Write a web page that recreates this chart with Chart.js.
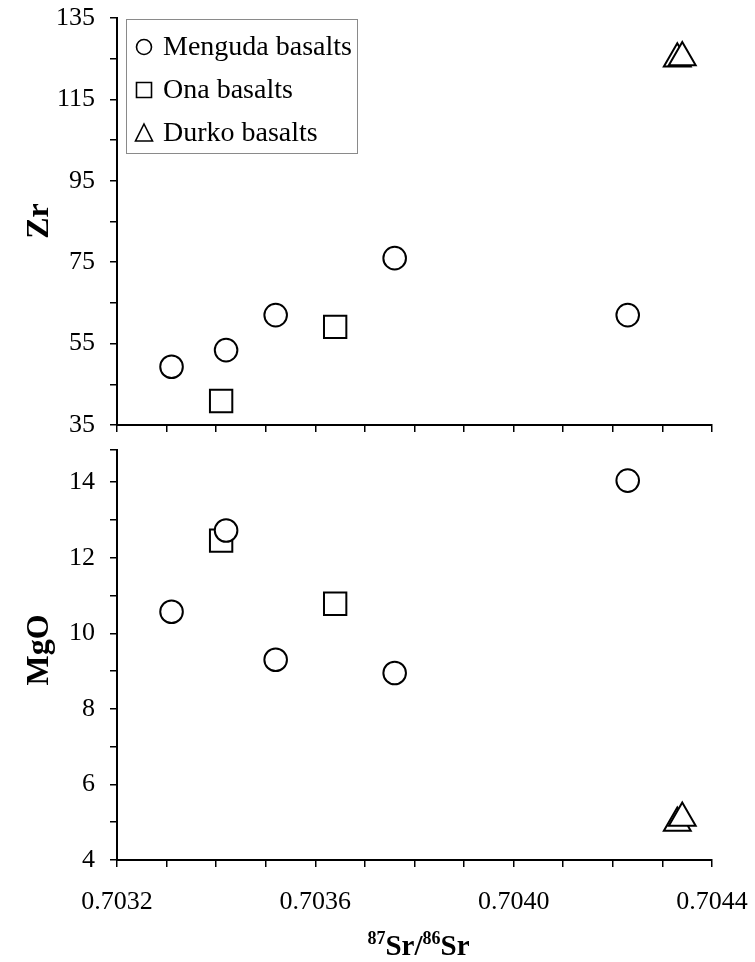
<!DOCTYPE html>
<html>
<head>
<meta charset="utf-8">
<script src="https://cdn.jsdelivr.net/npm/chart.js@4/dist/chart.umd.min.js"></script>
<style>
  html, body { margin: 0; padding: 0; background: #fff; }
  #wrap { position: relative; width: 755px; height: 962px; }
  canvas { position: absolute; left: 0; }
  #zr { top: 0; }
  #mgo { top: 432px; }
</style>
</head>
<body>
<div id="wrap">
  <canvas id="zr" width="755" height="443"></canvas>
  <canvas id="mgo" width="755" height="530"></canvas>
</div>
<script>
// 87Sr/86Sr and element values
const mengudaSr  = [0.70331, 0.70342, 0.70352, 0.70376, 0.70423];
const mengudaZr  = [49.3, 53.4, 62.0, 76.0, 62.0];
const mengudaMgO = [10.57, 12.72, 9.30, 8.95, 14.04];

const onaSr  = [0.70341, 0.70364];
const onaZr  = [40.9, 59.1];
const onaMgO = [12.45, 10.78];

const durkoSr  = [0.70433, 0.70434];
const durkoZr  = [125.0, 125.3];
const durkoMgO = [4.98, 5.11];

// axis ticks (minor ones carry no label)
const srTicks  = [0.7032, 0.7033, 0.7034, 0.7035, 0.7036, 0.7037, 0.7038,
                  0.7039, 0.7040, 0.7041, 0.7042, 0.7043, 0.7044];
const srLabels = ["0.7032", "", "", "", "0.7036", "", "", "", "0.7040", "", "", "", "0.7044"];
const zrTicks  = [35, 45, 55, 65, 75, 85, 95, 105, 115, 125, 135];
const zrLabels = ["35", "", "55", "", "75", "", "95", "", "115", "", "135"];
const mgoTicks  = [4, 5, 6, 7, 8, 9, 10, 11, 12, 13, 14, 14.85];
const mgoLabels = ["4", "", "6", "", "8", "", "10", "", "12", "", "14", ""];

const serif = "Liberation Serif";
Chart.defaults.font.family = serif;
Chart.defaults.font.size = 26;
Chart.defaults.color = "#000";

function pts(xs, ys) {
  return xs.map((x, i) => ({ x: x, y: ys[i] }));
}

function series(ys) {
  return [
    { label: "Menguda basalts", data: pts(mengudaSr, ys[0]), pointStyle: "circle", pointRadius: 11.3 },
    { label: "Ona basalts", data: pts(onaSr, ys[1]), pointStyle: "rect", pointRadius: 15.8 },
    { label: "Durko basalts", data: pts(durkoSr, ys[2]), pointStyle: "triangle", pointRadius: 15.5 }
  ].map(d => Object.assign(d, {
    showLine: false,
    backgroundColor: "#fff",
    borderColor: "#000",
    borderWidth: 2,
    pointBackgroundColor: "#fff",
    pointBorderColor: "#000",
    pointBorderWidth: 2,
    clip: false
  }));
}

function noPad(s) {
  s.paddingLeft = 0; s.paddingRight = 0; s.paddingTop = 0; s.paddingBottom = 0;
}

function xAxis(labels, height) {
  return {
    type: "linear",
    min: 0.7032,
    max: 0.7044,
    afterBuildTicks: s => { s.ticks = srTicks.map(v => ({ value: v })); },
    afterFit: s => { s.height = height; noPad(s); },
    ticks: {
      autoSkip: false,
      maxRotation: 0,
      padding: 20,
      font: { family: serif, size: 26 },
      callback: (v, i) => labels ? srLabels[i] : ""
    },
    grid: { drawOnChartArea: false, drawTicks: true, tickLength: 7, color: "#000", lineWidth: 1.5 },
    border: { color: "#000", width: 2 }
  };
}

function yAxis(min, max, ticks, labels) {
  return {
    type: "linear",
    min: min,
    max: max,
    afterBuildTicks: s => { s.ticks = ticks.map(v => ({ value: v })); },
    afterFit: s => { s.width = 117; noPad(s); },
    ticks: {
      autoSkip: false,
      padding: 15,
      font: { family: serif, size: 26 },
      callback: (v, i) => labels[i]
    },
    grid: { drawOnChartArea: false, drawTicks: true, tickLength: 7, color: "#000", lineWidth: 1.5 },
    border: { color: "#000", width: 2 }
  };
}

// bold axis names, drawn where the figure has them
const axisNames = {
  id: "axisNames",
  afterDraw(chart, args, opts) {
    const ctx = chart.ctx;
    ctx.save();
    ctx.fillStyle = "#000";
    ctx.font = "bold 32px '" + serif + "'";
    ctx.textAlign = "center";
    ctx.textBaseline = "middle";
    ctx.translate(opts.x, opts.y);
    ctx.rotate(-Math.PI / 2);
    ctx.fillText(opts.text, 0, 0);
    ctx.restore();

    if (opts.xTitle) {
      // 87Sr/86Sr with superscripts
      const parts = [["87", true], ["Sr/", false], ["86", true], ["Sr", false]];
      const big = "bold 29px '" + serif + "'", small = "bold 18px '" + serif + "'";
      ctx.save();
      ctx.fillStyle = "#000";
      ctx.textBaseline = "alphabetic";
      let w = 0;
      parts.forEach(p => { ctx.font = p[1] ? small : big; w += ctx.measureText(p[0]).width; });
      const area = chart.chartArea;
      let x = (area.left + area.right) / 2 - w / 2 + 4;
      const y = opts.xTitle;
      parts.forEach(p => {
        ctx.font = p[1] ? small : big;
        ctx.fillText(p[0], x, p[1] ? y - 11 : y);
        x += ctx.measureText(p[0]).width;
      });
      ctx.restore();
    }
  }
};

// legend box inside the top panel
const boxLegend = {
  id: "boxLegend",
  afterDraw(chart) {
    const ctx = chart.ctx;
    ctx.save();
    ctx.strokeStyle = "#8a8a8a";
    ctx.lineWidth = 1;
    ctx.strokeRect(126.5, 19.5, 231, 134);
    const rows = [47, 90, 133];
    ctx.font = "28px '" + serif + "'";
    ctx.textBaseline = "middle";
    chart.data.datasets.forEach((d, i) => {
      const cy = rows[i], cx = 144;
      ctx.strokeStyle = "#000";
      ctx.lineWidth = 1.6;
      ctx.beginPath();
      if (d.pointStyle === "circle") {
        ctx.arc(cx, cy, 7.5, 0, Math.PI * 2);
      } else if (d.pointStyle === "rect") {
        ctx.rect(cx - 7.5, cy - 7.5, 15, 15);
      } else {
        ctx.moveTo(cx, cy - 9);
        ctx.lineTo(cx + 8.5, cy + 8);
        ctx.lineTo(cx - 8.5, cy + 8);
        ctx.closePath();
      }
      ctx.stroke();
      ctx.fillStyle = "#000";
      ctx.fillText(d.label, 163, cy + 1);
    });
    ctx.restore();
  }
};

const common = {
  responsive: false,
  animation: false,
  events: [],
  plugins: { legend: { display: false }, tooltip: { enabled: false } }
};

new Chart(document.getElementById("zr"), {
  type: "scatter",
  data: { datasets: series([mengudaZr, onaZr, durkoZr]) },
  options: Object.assign({}, common, {
    layout: { padding: { top: 18, right: 43, left: 0, bottom: 0 } },
    scales: { x: xAxis(false, 18), y: yAxis(35, 135, zrTicks, zrLabels) },
    plugins: Object.assign({}, common.plugins, {
      axisNames: { text: "Zr", x: 40, y: 221 }
    })
  }),
  plugins: [axisNames, boxLegend]
});

new Chart(document.getElementById("mgo"), {
  type: "scatter",
  data: { datasets: series([mengudaMgO, onaMgO, durkoMgO]) },
  options: Object.assign({}, common, {
    layout: { padding: { top: 18, right: 43, left: 0, bottom: 0 } },
    scales: { x: xAxis(true, 102), y: yAxis(4, 14.85, mgoTicks, mgoLabels) },
    plugins: Object.assign({}, common.plugins, {
      axisNames: { text: "MgO", x: 40, y: 218, xTitle: 523 }
    })
  }),
  plugins: [axisNames]
});
</script>
</body>
</html>
